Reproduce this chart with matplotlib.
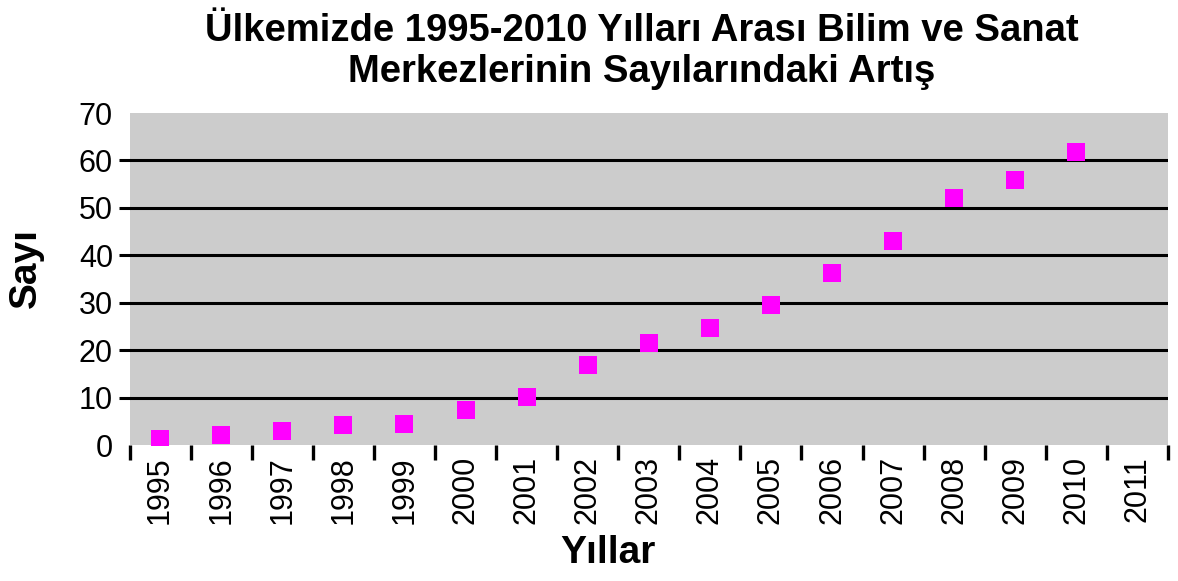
import numpy as np
import matplotlib
matplotlib.use("Agg")
import matplotlib.pyplot as plt

years = ["1995", "1996", "1997", "1998", "1999", "2000", "2001", "2002",
         "2003", "2004", "2005", "2006", "2007", "2008", "2009", "2010", "2011"]
counts = [1.2, 2.1, 3.0, 4.2, 4.4, 7.3, 10.2, 16.9,
          21.5, 24.6, 29.6, 36.3, 43.0, 52.0, 55.8, 61.7]
y_ticks = [0, 10, 20, 30, 40, 50, 60, 70]

title = "Ülkemizde 1995-2010 Yılları Arası Bilim ve Sanat\nMerkezlerinin Sayılarındaki Artış"

plt.rcParams['font.family'] = ['Liberation Sans', 'DejaVu Sans']

fig = plt.figure(figsize=(11.78, 5.81), dpi=100)
ax = fig.add_axes([0.110, 0.234, 0.8815, 0.5715])
ax.set_facecolor("#cccccc")

x = np.arange(len(counts))
ax.scatter(x, counts, marker="s", s=150, color="#ff00ff", zorder=3, linewidths=0)

ax.set_xlim(-0.5, len(years) - 0.5)
ax.set_ylim(0, 70)

# gridlines (not at 0 or 70)
for v in y_ticks[1:-1]:
    ax.axhline(v, color="black", linewidth=2.2, zorder=2)

ax.set_yticks(y_ticks)
ax.set_yticklabels([str(v) for v in y_ticks], fontsize=22)
ax.tick_params(axis="y", length=8, width=2.2, color="black", pad=4)
yt = ax.yaxis.get_major_ticks()
yt[0].tick1line.set_visible(False)
yt[-1].tick1line.set_visible(False)

# category labels at centres, tick marks at boundaries
ax.set_xticks(np.arange(len(years)))
ax.set_xticklabels(years, rotation=90, fontsize=22)
ax.tick_params(axis="x", length=0, pad=8)
ax.set_xticks(np.arange(len(years) + 1) - 0.5, minor=True)
ax.tick_params(axis="x", which="minor", length=11, width=2.4, color="black")

for s in ax.spines.values():
    s.set_visible(False)

ax.set_xlabel("Yıllar", fontsize=28, fontweight="bold")
ax.xaxis.set_label_coords(0.4605, -0.272)
ax.set_ylabel("Sayı", fontsize=28, fontweight="bold")
ax.yaxis.set_label_coords(-0.083, 0.533)
ax.set_title(title, fontsize=27.5, fontweight="bold", pad=22, linespacing=1.2, x=0.493)

fig.savefig("out.png", dpi=100)
